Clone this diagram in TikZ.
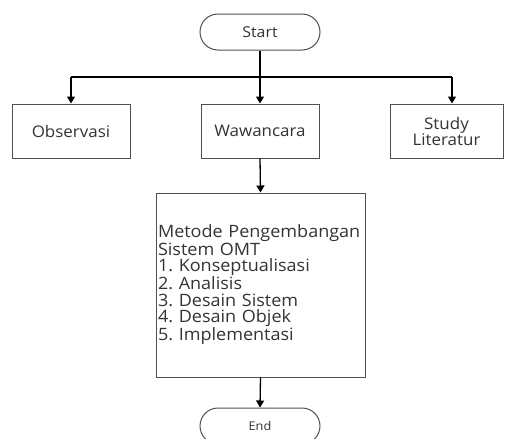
\documentclass[tikz,border=0pt]{standalone}
\usepackage{fontspec}
\setmainfont{Open Sans}[FakeStretch=1.06]
\usetikzlibrary{arrows.meta}
\definecolor{boxline}{HTML}{505050}
\definecolor{txt}{HTML}{333333}
\tikzset{
  term/.style={draw=boxline, line width=1pt, rounded corners=18pt, minimum width=120pt, minimum height=36pt, inner sep=0pt, text=txt, font=\fontsize{15}{17}\selectfont},
  procbox/.style={draw=boxline, line width=1pt, minimum height=54pt, inner sep=0pt, align=center, text=txt, font=\fontsize{16}{17}\selectfont},
  conn/.style={draw=black, line width=1.3pt, -{Triangle[width=8pt,length=7pt]}},
  plain/.style={draw=black, line width=1.3pt}
}
\frenchspacing
\begin{document}
\begin{tikzpicture}[x=1pt,y=-1pt]
\useasboundingbox (0,0) rectangle (507,439);
\clip (0,0) rectangle (507,439);
\node[term] (start) at (260,32) {Start};
\node[procbox, minimum width=118pt] (obs) at (71,131) {Observasi};
\node[procbox, minimum width=118pt] (waw) at (260,131) {Wawancara};
\node[procbox, minimum width=113pt] (stud) at (446.5,131) {Study\\[-1pt]Literatur};
\node[draw=boxline, line width=1pt, minimum width=209pt, minimum height=184pt, text width=205pt, inner xsep=2pt, inner ysep=0pt, align=left, text=txt, font=\fontsize{17}{16.5}\selectfont\frenchspacing] (omt) at (260.5,285)
{Metode Pengembangan\\Sistem OMT\\1. Konseptualisasi\\2. Analisis\\3. Desain Sistem\\4. Desain Objek\\5. Implementasi};
\node[term, font=\fontsize{12}{14}\selectfont] (end) at (260,426) {End};
\coordinate (hl) at (71,77);
\coordinate (hr) at (452,77);
\coordinate (hm) at (260,77);
\draw[plain] (start.south) -- (hm);
\draw[plain] (hl) -- (hr);
\draw[conn] (hl) -- (obs.north);
\draw[conn] (hm) -- (waw.north);
\draw[conn] (hr) -- (hr |- stud.north);
\draw[conn] (waw.south) -- (omt.north);
\draw[conn] (omt.south) -- (end.north);
\end{tikzpicture}
\end{document}
